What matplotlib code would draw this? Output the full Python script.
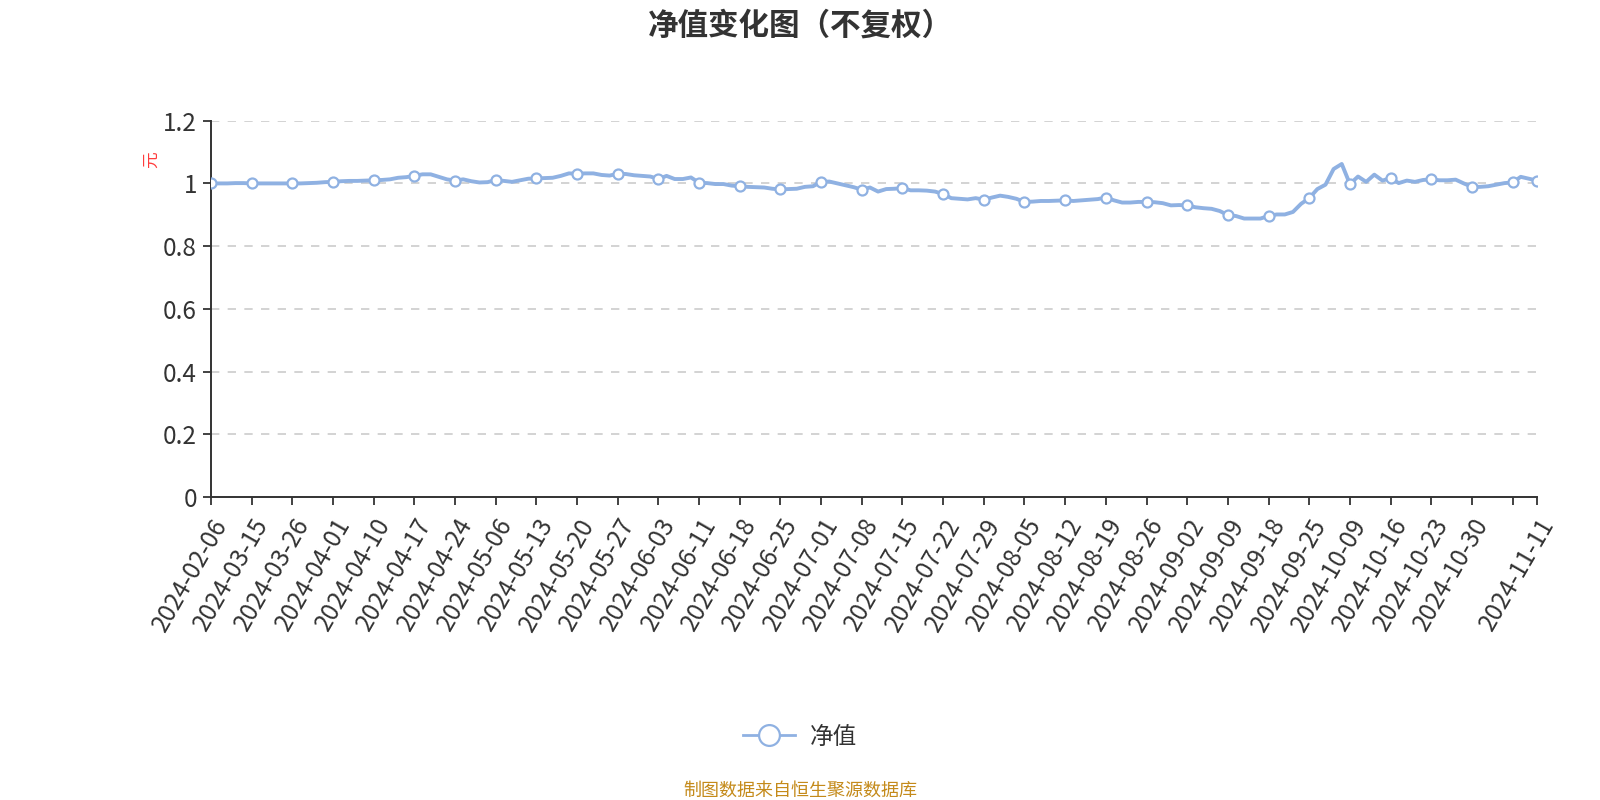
import numpy as np
import matplotlib.pyplot as plt
from matplotlib.lines import Line2D

plt.rcParams['font.family'] = ['Noto Sans CJK SC', 'DejaVu Sans']

# 单位净值（按披露顺序，每5个点一个刻度）
nav = [
    1.000, 1.000, 1.000, 1.001, 1.001, 1.000, 1.000, 1.000, 1.000, 1.000,
    1.000, 1.000, 1.001, 1.002, 1.004, 1.005, 1.007, 1.008, 1.008, 1.009,
    1.010, 1.011, 1.013, 1.018, 1.020, 1.024, 1.029, 1.029, 1.021, 1.013,
    1.009, 1.013, 1.007, 1.003, 1.004, 1.011, 1.008, 1.005, 1.010, 1.015,
    1.016, 1.017, 1.018, 1.024, 1.032, 1.031, 1.032, 1.032, 1.027, 1.025,
    1.031, 1.030, 1.026, 1.024, 1.022, 1.014, 1.024, 1.014, 1.014, 1.019,
    1.002, 1.001, 0.998, 0.998, 0.993, 0.991, 0.989, 0.988, 0.987, 0.983,
    0.981, 0.982, 0.983, 0.989, 0.991, 1.005, 1.006, 1.000, 0.994, 0.988,
    0.980, 0.987, 0.974, 0.982, 0.983, 0.985, 0.978, 0.978, 0.977, 0.974,
    0.966, 0.953, 0.951, 0.949, 0.953, 0.948, 0.955, 0.961, 0.957, 0.951,
    0.941, 0.942, 0.944, 0.944, 0.945, 0.946, 0.944, 0.946, 0.948, 0.950,
    0.955, 0.946, 0.939, 0.939, 0.941, 0.941, 0.940, 0.937, 0.930, 0.931,
    0.930, 0.924, 0.921, 0.919, 0.912, 0.899, 0.896, 0.888, 0.888, 0.888,
    0.896, 0.901, 0.901, 0.909, 0.935, 0.953, 0.982, 0.996, 1.046, 1.062,
    0.998, 1.022, 1.005, 1.028, 1.009, 1.017, 1.001, 1.009, 1.005, 1.011,
    1.013, 1.010, 1.010, 1.012, 1.000, 0.989, 0.989, 0.991, 0.996, 1.001,
    1.003, 1.021, 1.015, 1.009,
]

# 横轴显示的日期（每5个点一个，最后一个是末尾日期）
tick_dates = [
    '2024-02-06', '2024-03-15', '2024-03-26', '2024-04-01', '2024-04-10',
    '2024-04-17', '2024-04-24', '2024-05-06', '2024-05-13', '2024-05-20',
    '2024-05-27', '2024-06-03', '2024-06-11', '2024-06-18', '2024-06-25',
    '2024-07-01', '2024-07-08', '2024-07-15', '2024-07-22', '2024-07-29',
    '2024-08-05', '2024-08-12', '2024-08-19', '2024-08-26', '2024-09-02',
    '2024-09-09', '2024-09-18', '2024-09-25', '2024-10-09', '2024-10-16',
    '2024-10-23', '2024-10-30', '2024-11-11',
]
step = 5

y_ticks = [0, 0.2, 0.4, 0.6, 0.8, 1.0, 1.2]
y_labels = ['0', '0.2', '0.4', '0.6', '0.8', '1', '1.2']

color = '#8FB1E2'
dark = '#333333'

x = np.arange(len(nav))
y = np.array(nav)
last = len(nav) - 1

fig = plt.figure(figsize=(16, 8), dpi=100)
ax = fig.add_axes([211 / 1600, 1 - 497 / 800, (1537 - 211) / 1600, (497 - 120.7) / 800])

ax.plot(x, y, color=color, lw=2.8, solid_joinstyle='round', solid_capstyle='round', zorder=3)
marks = list(range(0, len(nav), step)) + [last]
ax.plot(x[marks], y[marks], ls='none', marker='o', ms=7.2, mfc='white', mec=color, mew=1.6, zorder=4)

# 刻度
tick_pos = list(range(0, len(nav), step)) + [last]
tick_lab = tick_dates[:-1] + [''] + [tick_dates[-1]]
ax.set_xticks(tick_pos)
ax.set_xticklabels(tick_lab, rotation=60, ha='right', va='top', rotation_mode='anchor')
ax.set_xlim(0, last)
ax.set_ylim(0, 1.2)
ax.set_yticks(y_ticks)
ax.set_yticklabels(y_labels)

ax.yaxis.grid(True, ls=(0, (5, 5)), color='#cccccc', lw=1.2)
ax.set_axisbelow(True)
for s in ['top', 'right']:
    ax.spines[s].set_visible(False)
for s in ['left', 'bottom']:
    ax.spines[s].set_color(dark)
    ax.spines[s].set_linewidth(1.4)
ax.tick_params(axis='both', length=6, width=1.3, color=dark, labelcolor=dark, labelsize=17.5)
ax.tick_params(axis='x', pad=6)
ax.tick_params(axis='y', pad=4)

# 标题、单位、图例、来源
fig.text(0.5, 1 - 26 / 800, '净值变化图（不复权）', ha='center', va='center',
         fontsize=22, fontweight='bold', color=dark)
fig.text(151 / 1600, 1 - 160 / 800, '元', rotation=90, ha='center', va='center',
         fontsize=12, color='#FF3B3B')

handle = Line2D([], [], color=color, lw=2, marker='o', ms=15, mfc='white', mec=color, mew=1.6)
fig.legend([handle], ['净值'], loc='center', bbox_to_anchor=(0.5, 1 - 737 / 800),
           frameon=False, fontsize=17, handlelength=2.2, handletextpad=0.6, labelcolor=dark)

fig.text(0.5, 1 - 791 / 800, '制图数据来自恒生聚源数据库', ha='center', va='center',
         fontsize=13, color='#C48A1A')

fig.savefig('out.png', dpi=100)
